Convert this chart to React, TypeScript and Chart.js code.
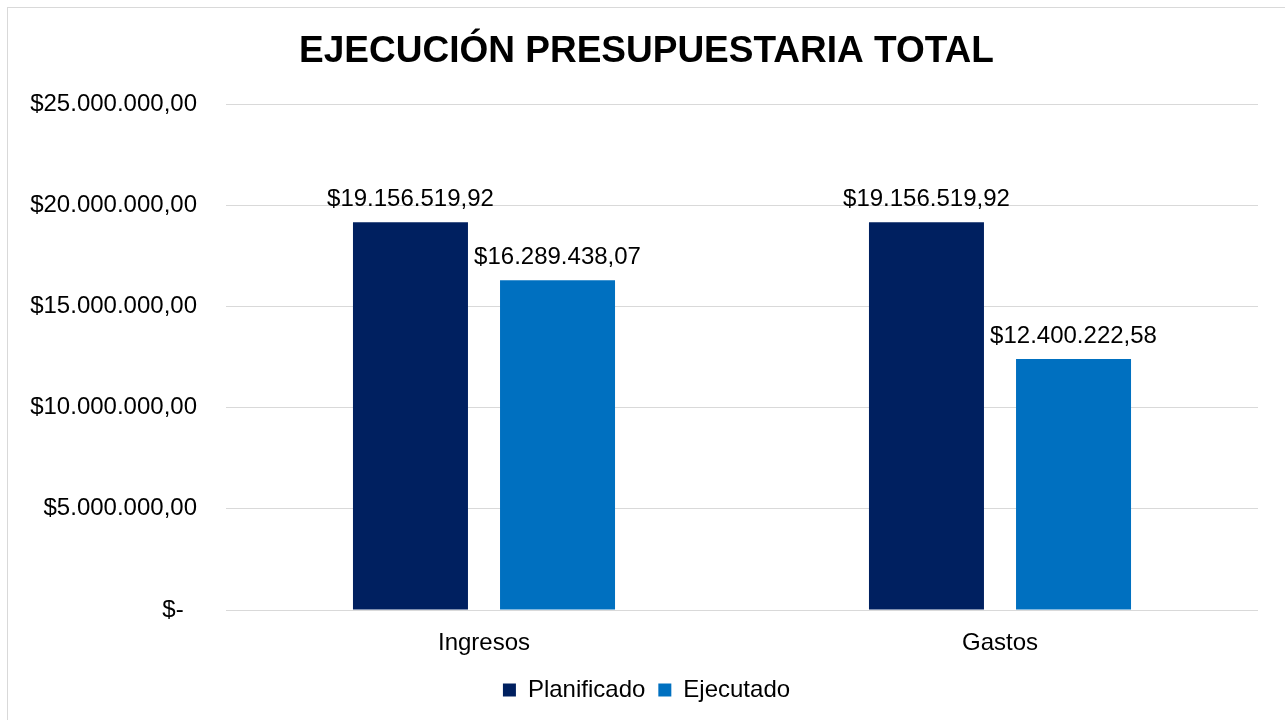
import React, { useEffect, useRef } from "react";
import { Chart, registerables } from "chart.js";

Chart.register(...registerables);

const categories = ["Ingresos", "Gastos"];
const planificado = [19156519.92, 19156519.92];
const ejecutado = [16289438.07, 12400222.58];
const seriesNames = ["Planificado", "Ejecutado"];
const titleText = "EJECUCIÓN PRESUPUESTARIA TOTAL";
const yMax = 25000000;
const yStep = 5000000;

const FONT = "'Liberation Sans', Arial, sans-serif";

function fmtMoney(v: number): string {
  const fixed = Math.abs(v).toFixed(2);
  const [intPart, dec] = fixed.split(".");
  const grouped = intPart.replace(/\B(?=(\d{3})+(?!\d))/g, ".");
  return "$" + grouped + "," + dec;
}

function tickLabel(v: number): string {
  if (v === 0) return "$-  ";
  return fmtMoney(v);
}

const dataLabelPlugin = {
  id: "dataLabels",
  afterDatasetsDraw(chart: any) {
    const ctx = chart.ctx;
    ctx.save();
    ctx.font = `24px ${FONT}`;
    ctx.fillStyle = "#000000";
    ctx.textAlign = "center";
    ctx.textBaseline = "alphabetic";
    chart.data.datasets.forEach((ds: any, di: number) => {
      const meta = chart.getDatasetMeta(di);
      meta.data.forEach((el: any, i: number) => {
        ctx.fillText(fmtMoney(ds.data[i]), el.x, el.y - 16);
      });
    });
    ctx.restore();
  },
};

export default function App() {
  const ref = useRef<HTMLCanvasElement | null>(null);

  useEffect(() => {
    document.body.style.overflow = "hidden";
    if (!ref.current) return;
    const chart = new Chart(ref.current, {
      type: "bar",
      data: {
        labels: categories,
        datasets: [
          {
            label: seriesNames[0],
            data: planificado,
            backgroundColor: "#002060",
            categoryPercentage: 0.57,
            barPercentage: 0.782,
          },
          {
            label: seriesNames[1],
            data: ejecutado,
            backgroundColor: "#0070C0",
            categoryPercentage: 0.57,
            barPercentage: 0.782,
          },
        ],
      },
      options: {
        responsive: false,
        animation: false,
        layout: { padding: { left: 0, right: 0, top: 0, bottom: 8 } },
        plugins: {
          title: {
            display: true,
            text: titleText,
            color: "#000000",
            font: { family: FONT, size: 37, weight: "bold" },
            padding: { top: 22, bottom: 29.6 },
          },
          legend: {
            display: true,
            position: "bottom",
            labels: {
              color: "#000000",
              font: { family: FONT, size: 24 },
              boxWidth: 13,
              boxHeight: 13,
              padding: 13,
            },
          },
          tooltip: { enabled: false },
        },
        scales: {
          x: {
            grid: { display: false },
            border: { display: false },
            ticks: {
              color: "#000000",
              font: { family: FONT, size: 24 },
              padding: 11,
            },
            afterFit: (s: any) => {
              s.height = 55;
            },
          },
          y: {
            min: 0,
            max: yMax,
            grid: { color: "#d9d9d9", lineWidth: 1, drawTicks: false },
            border: { display: false },
            ticks: {
              stepSize: yStep,
              color: "#000000",
              font: { family: FONT, size: 24 },
              padding: 29,
              callback: (v: any) => tickLabel(Number(v)),
            },
            afterFit: (s: any) => {
              s.width = 218;
            },
          },
          yRightSpace: {
            type: "linear",
            position: "right",
            display: true,
            grid: { display: false, drawTicks: false },
            border: { display: false },
            ticks: { display: false },
            afterFit: (s: any) => {
              s.width = 27;
            },
          },
        },
      },
      plugins: [dataLabelPlugin],
    });
    return () => chart.destroy();
  }, []);

  return (
    <div
      style={{
        position: "fixed",
        left: 7,
        top: 7,
        border: "1px solid #d9d9d9",
        background: "#ffffff",
        width: 1277,
        height: 712,
      }}
    >
      <canvas ref={ref} width={1277} height={712} style={{ display: "block" }} />
    </div>
  );
}
